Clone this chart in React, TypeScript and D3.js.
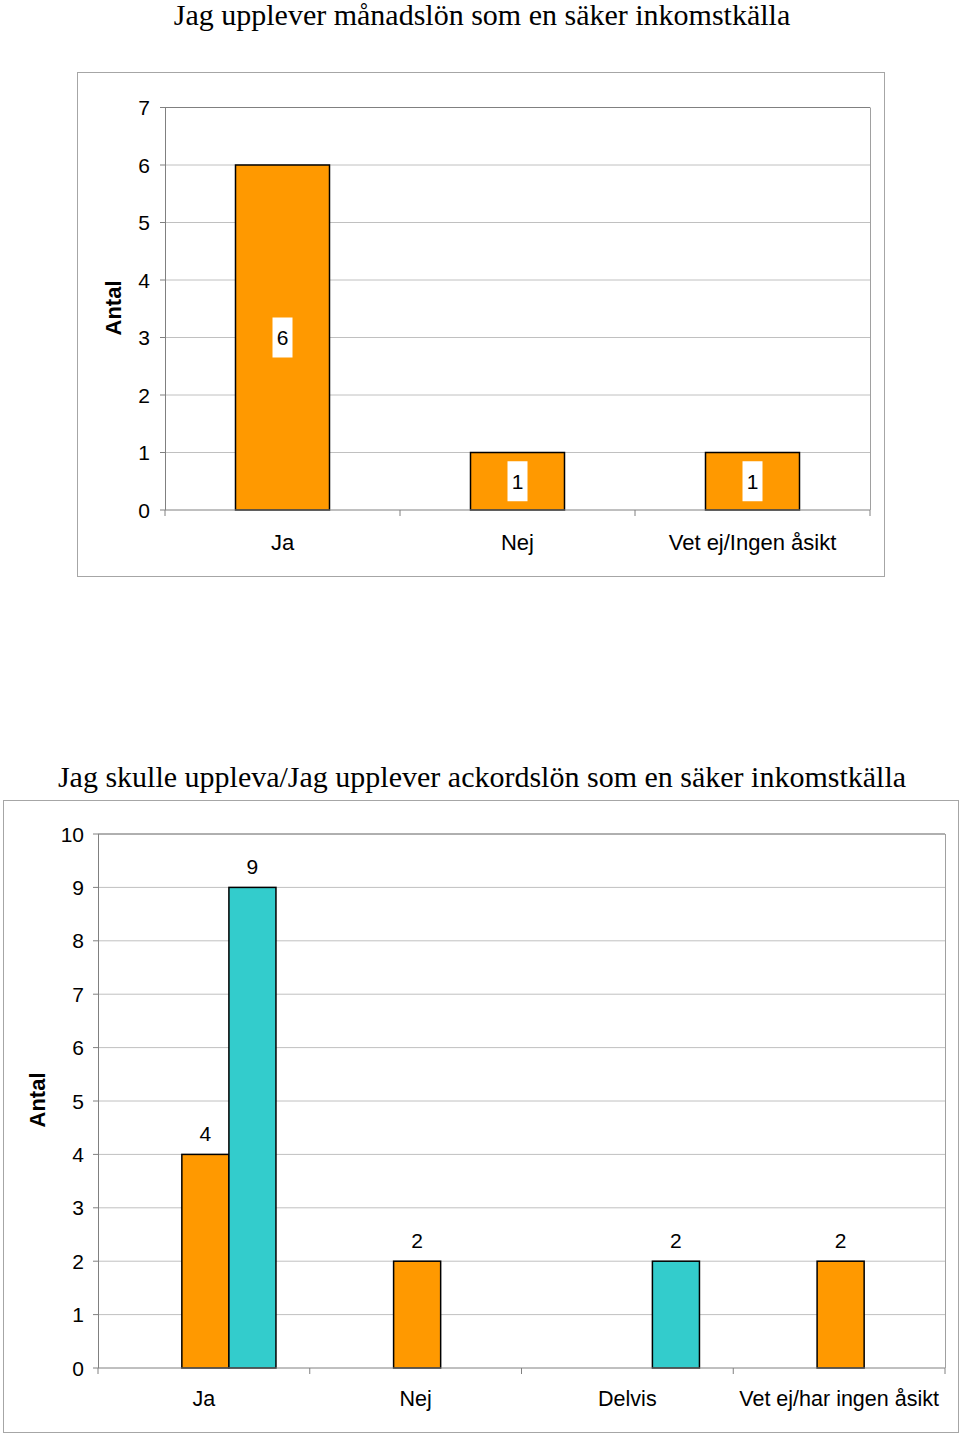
import React from "react";
import * as d3 from "d3";

// top chart: monthly pay
const topTitle = "Jag upplever månadslön som en säker inkomstkälla";
const topCategories = ["Ja", "Nej", "Vet ej/Ingen åsikt"];
const topValues = [6, 1, 1];
const topTicks = [0, 1, 2, 3, 4, 5, 6, 7];

// bottom chart: piece-rate pay, two series
const bottomTitle = "Jag skulle uppleva/Jag upplever ackordslön som en säker inkomstkälla";
const bottomCategories = ["Ja", "Nej", "Delvis", "Vet ej/har ingen åsikt"];
const seriesOrange = [4, 2, 0, 2];
const seriesCyan = [9, 0, 2, 0];
const bottomTicks = [0, 1, 2, 3, 4, 5, 6, 7, 8, 9, 10];
// excel kept an empty first slot, so the orange bar sits centred
const slots = ["empty", "orange", "cyan"];

const ORANGE = "#ff9900";
const CYAN = "#33cccc";
const SANS = "Liberation Sans, Arial, sans-serif";
const SERIF = "Liberation Serif, Times New Roman, serif";

function TopChart() {
  const x = d3.scaleBand().domain(topCategories).range([165, 870]).paddingInner(0.6).paddingOuter(0.3);
  const xEdge = d3.scaleBand().domain(topCategories).range([165, 870]);
  const y = d3.scaleLinear().domain([0, 7]).range([510, 107.5]);

  return (
    <g>
      <text x={482} y={25} textAnchor="middle" fontFamily={SERIF} fontSize={30}>{topTitle}</text>
      <rect x={77.5} y={72.5} width={807} height={504} fill="#fff" stroke="#a6a6a6" />
      {topTicks.map((t) => (
        <g key={t}>
          {t > 0 && <line x1={165} x2={870} y1={y(t)} y2={y(t)} stroke="#c0c0c0" />}
          <line x1={160} x2={165} y1={y(t)} y2={y(t)} stroke="#808080" />
          <text x={150} y={y(t)} dy="0.36em" textAnchor="end" fontFamily={SANS} fontSize={21}>{t}</text>
        </g>
      ))}
      <line x1={870.5} x2={870.5} y1={107.5} y2={510} stroke="#a0a0a0" />
      <line x1={165} x2={870} y1={107.5} y2={107.5} stroke="#808080" />
      <line x1={165.5} x2={165.5} y1={107.5} y2={510} stroke="#808080" />
      {topCategories.map((c, i) => (
        <g key={c}>
          <rect x={x(c)} y={y(topValues[i])} width={x.bandwidth()} height={y(0) - y(topValues[i])}
            fill={ORANGE} stroke="#000" strokeWidth={1.5} />
          <rect x={x(c)! + x.bandwidth() / 2 - 10} y={y(topValues[i] / 2) - 20} width={20} height={40} fill="#fff" />
          <text x={x(c)! + x.bandwidth() / 2} y={y(topValues[i] / 2)} dy="0.36em" textAnchor="middle"
            fontFamily={SANS} fontSize={21}>{topValues[i]}</text>
          <text x={xEdge(c)! + xEdge.bandwidth() / 2} y={542} dy="0.36em" textAnchor="middle"
            fontFamily={SANS} fontSize={22}>{c}</text>
        </g>
      ))}
      {[...topCategories.map((c) => xEdge(c)!), 870].map((v, i) => (
        <line key={i} x1={v} x2={v} y1={510} y2={516} stroke="#808080" />
      ))}
      <line x1={165} x2={870} y1={510} y2={510} stroke="#808080" />
      <text transform={`translate(121,308) rotate(-90)`} textAnchor="middle" fontFamily={SANS}
        fontSize={22} fontWeight="bold">Antal</text>
    </g>
  );
}

function BottomChart() {
  const x = d3.scaleBand().domain(bottomCategories).range([98, 945]);
  const sub = d3.scaleBand().domain(slots).range([1.5, x.bandwidth() + 1.5]).paddingOuter(0.75);
  const y = d3.scaleLinear().domain([0, 10]).range([1368, 834]);
  const series = [
    { key: "orange", values: seriesOrange, color: ORANGE },
    { key: "cyan", values: seriesCyan, color: CYAN },
  ];

  return (
    <g>
      <text x={482} y={787} textAnchor="middle" fontFamily={SERIF} fontSize={30}>{bottomTitle}</text>
      <rect x={3.5} y={800.5} width={955} height={632} fill="#fff" stroke="#a6a6a6" />
      {bottomTicks.map((t) => (
        <g key={t}>
          {t > 0 && <line x1={98} x2={945} y1={y(t)} y2={y(t)} stroke="#c0c0c0" />}
          <line x1={93} x2={98} y1={y(t)} y2={y(t)} stroke="#808080" />
          <text x={84} y={y(t)} dy="0.36em" textAnchor="end" fontFamily={SANS} fontSize={21}>{t}</text>
        </g>
      ))}
      <line x1={945.5} x2={945.5} y1={834} y2={1368} stroke="#a0a0a0" />
      <line x1={98} x2={945} y1={834} y2={834} stroke="#808080" />
      <line x1={98.5} x2={98.5} y1={834} y2={1368} stroke="#808080" />
      {bottomCategories.map((c, i) => (
        <g key={c}>
          {series.filter((s) => s.values[i] > 0).map((s) => {
            const bx = x(c)! + sub(s.key)!;
            const v = s.values[i];
            return (
              <g key={s.key}>
                <rect x={bx} y={y(v)} width={sub.bandwidth()} height={y(0) - y(v)}
                  fill={s.color} stroke="#000" strokeWidth={1.5} />
                <text x={bx + sub.bandwidth() / 2} y={y(v) - 21} dy="0.36em" textAnchor="middle"
                  fontFamily={SANS} fontSize={21}>{v}</text>
              </g>
            );
          })}
          <text x={x(c)! + x.bandwidth() / 2} y={1398} dy="0.36em" textAnchor="middle"
            fontFamily={SANS} fontSize={21.5}>{c}</text>
        </g>
      ))}
      {[...bottomCategories.map((c) => x(c)!), 945].map((v, i) => (
        <line key={i} x1={v} x2={v} y1={1368} y2={1374} stroke="#808080" />
      ))}
      <line x1={98} x2={945} y1={1368} y2={1368} stroke="#808080" />
      <text transform={`translate(45,1100) rotate(-90)`} textAnchor="middle" fontFamily={SANS}
        fontSize={22} fontWeight="bold">Antal</text>
    </g>
  );
}

export default function App() {
  return (
    <svg width={960} height={1434} style={{ position: "absolute", left: 0, top: 0, background: "#fff" }}>
      <TopChart />
      <BottomChart />
    </svg>
  );
}
